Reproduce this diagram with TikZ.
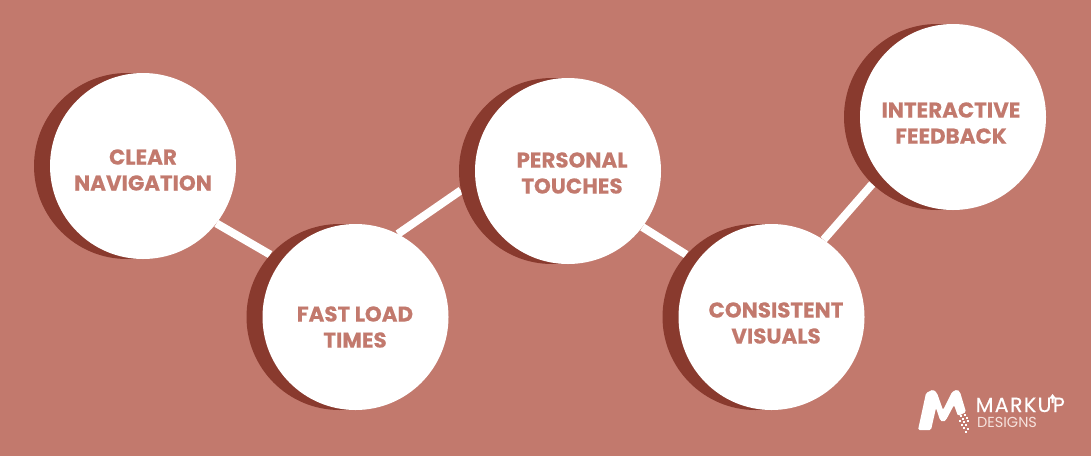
\documentclass[tikz,border=0pt]{standalone}
\usepackage{fontspec}
\setmainfont{Poppins}
\usetikzlibrary{backgrounds}
\definecolor{bgrose}{RGB}{194,121,109}
\definecolor{darkrose}{RGB}{137,58,46}
\definecolor{lightrose}{RGB}{246,226,221}
\tikzset{
    disc/.style={circle,fill=white,minimum size=186pt,inner sep=0pt},
    disclabel/.style={align=center,inner sep=0pt,text=bgrose,
        font=\fontsize{21.4}{26}\selectfont\bfseries\addfontfeature{FakeBold=0.35}},
    discshadow/.style={circle,fill=darkrose,minimum size=186pt,inner sep=0pt},
    link/.style={white,line width=8pt},
    logotext/.style={anchor=base west,inner sep=0pt}
}
\begin{document}
\begin{tikzpicture}[x=1pt,y=-1pt]
    \useasboundingbox (0,0) rectangle (1091,456);
    % circles with their shadows
    \foreach \x/\y/\tx/\ty/\name/\txt in {143/166/143/170/clear/CLEAR\\NAVIGATION,
            355.5/317/355/327/fast/FAST LOAD\\TIMES,
            568/171/572/173/personal/PERSONAL\\TOUCHES,
            771.5/317/776/323/consistent/CONSISTENT\\VISUALS,
            953/117/951/123/feedback/INTERACTIVE\\FEEDBACK}
    {
        \node[discshadow] (\name sh) at (\x-16,\y) {};
        \node[disc] (\name) at (\x,\y) {};
        \node[disclabel] (\name txt) at (\tx,\ty) {\txt};
    }
    \begin{scope}[on background layer]
        \fill[bgrose] (0,0) rectangle (1091,456);
        \draw[link] (clear.-38) -- (fastsh.138);
        \draw[link] (fast.63) -- (personalsh.192);
        \draw[link] (personal.-37.5) -- (consistentsh.138);
        \draw[link] (consistent.56) -- (feedbacksh.226.7);
    \end{scope}
    % logo
    \fill[white,rounded corners=1.5pt] (918,430) -- (926,393) -- (933,389.5) -- (937,393) -- (943,410)
        -- (952,392) -- (957,389.5) -- (960,392) -- (966,412) -- (958,416) -- (954,405)
        -- (946,420) -- (943,422) -- (940,420) -- (936,408) -- (931,430) -- cycle;
    \foreach \x/\y in {960/415,964/414,962/418,966/417,959/420,963/421,967/420,961/424,965/424,
            963/427,967/428,965/431}
        \fill[white] (\x,\y) rectangle +(2,2);
    \node[logotext,white,font=\fontsize{20.5}{20}\selectfont\addfontfeature{LetterSpace=7,FakeBold=0.3}] (markup) at (975.5,412) {MARKUP};
    \node[logotext,lightrose,font=\fontsize{14.5}{16}\selectfont] (designs) at (977,427.5) {DESIGNS};
    \fill[white] (1052.6,394) -- (1056,398.5) -- (1053.7,398.5) -- (1053.7,403) -- (1051.5,403) -- (1051.5,398.5) -- (1049.2,398.5) -- cycle;
\end{tikzpicture}
\end{document}
